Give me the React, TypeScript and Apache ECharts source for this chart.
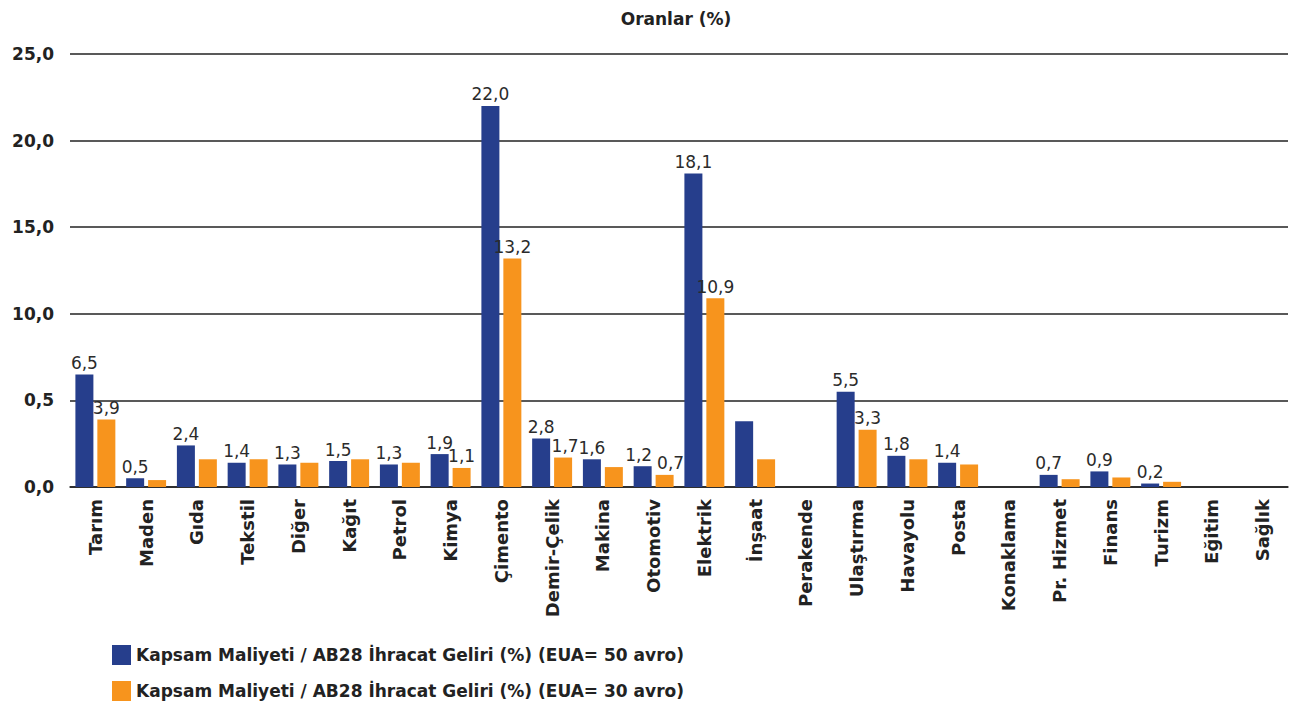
import React, { useEffect, useRef } from "react";
import * as echarts from "echarts";

const categories = [
  "Tarım", "Maden", "Gıda", "Tekstil", "Diğer", "Kağıt", "Petrol", "Kimya",
  "Çimento", "Demir-Çelik", "Makina", "Otomotiv", "Elektrik", "İnşaat",
  "Perakende", "Ulaştırma", "Havayolu", "Posta", "Konaklama", "Pr. Hizmet",
  "Finans", "Turizm", "Eğitim", "Sağlık",
];

const seriesNames = [
  "Kapsam Maliyeti / AB28 İhracat Geliri (%) (EUA= 50 avro)",
  "Kapsam Maliyeti / AB28 İhracat Geliri (%) (EUA= 30 avro)",
];

// EUA = 50 avro
const eua50 = [6.5, 0.5, 2.4, 1.4, 1.3, 1.5, 1.3, 1.9, 22.0, 2.8, 1.6, 1.2, 18.1, 3.8, 0, 5.5, 1.8, 1.4, 0, 0.7, 0.9, 0.2, 0, 0];
// which EUA 50 bars carry a value label
const eua50Labelled = [1, 1, 1, 1, 1, 1, 1, 1, 1, 1, 1, 1, 1, 0, 0, 1, 1, 1, 0, 1, 1, 1, 0, 0];

// EUA = 30 avro
const eua30 = [3.9, 0.4, 1.6, 1.6, 1.4, 1.6, 1.4, 1.1, 13.2, 1.7, 1.15, 0.7, 10.9, 1.6, 0, 3.3, 1.6, 1.3, 0, 0.45, 0.55, 0.3, 0, 0];
const eua30Labelled = [1, 0, 0, 0, 0, 0, 0, 1, 1, 1, 0, 1, 1, 0, 0, 1, 0, 0, 0, 0, 0, 0, 0, 0];

const yTickLabels = ["0,0", "0,5", "10,0", "15,0", "20,0", "25,0"];

const BLUE = "#263E8C";
const ORANGE = "#F7941D";
const FONT = "'DejaVu Sans', sans-serif";

// horizontal nudges for value labels that would otherwise collide
const blueLabelNudge: Record<number, number> = { 11: -4 };
const orangeLabelNudge: Record<number, number> = { 9: 2, 11: 6 };

const fmt = (v: number) => v.toFixed(1).replace(".", ",");

const makeData = (vals: number[], flags: number[], nudge: Record<number, number>) =>
  vals.map((v, i) => ({
    value: v,
    label: { show: flags[i] === 1, offset: [nudge[i] ?? 0, 0] },
  }));

const legendBase = {
  orient: "horizontal" as const,
  left: 112,
  padding: 0,
  itemWidth: 19,
  itemHeight: 20,
  itemGap: 6,
  icon: "rect",
  textStyle: { fontSize: 17, fontWeight: "bold" as const, color: "#222", fontFamily: FONT },
};

export default function App() {
  const ref = useRef<HTMLDivElement>(null);

  useEffect(() => {
    if (!ref.current) return;
    const chart = echarts.init(ref.current, null, { renderer: "svg" });
    const labelStyle = {
      position: "top" as const,
      distance: 3,
      color: "#2b2b2b",
      fontSize: 17,
      fontFamily: FONT,
      formatter: (p: any) => fmt(p.value),
    };
    chart.setOption({
      animation: false,
      backgroundColor: "#ffffff",
      title: {
        text: "Oranlar (%)",
        left: 671,
        top: 5,
        textAlign: "center",
        textStyle: { fontSize: 17, fontWeight: "bold", color: "#222", fontFamily: FONT },
      },
      legend: [
        { ...legendBase, top: 645, data: [seriesNames[0]] },
        { ...legendBase, top: 681, data: [seriesNames[1]] },
      ],
      grid: { left: 70, right: 12, top: 54, bottom: 217 },
      xAxis: {
        type: "category",
        data: categories,
        axisLine: { lineStyle: { color: "#222", width: 1.5 } },
        axisTick: { show: false },
        axisLabel: {
          rotate: 90,
          interval: 0,
          margin: 12,
          fontSize: 18,
          fontWeight: "bold",
          color: "#222",
          fontFamily: FONT,
        },
      },
      yAxis: {
        type: "value",
        min: 0,
        max: 25,
        interval: 5,
        axisLine: { show: false },
        axisTick: { show: false },
        splitLine: { lineStyle: { color: "#222", width: 1.5 } },
        axisLabel: {
          margin: 16,
          fontSize: 17,
          fontWeight: "bold",
          color: "#222",
          fontFamily: FONT,
          formatter: (v: number) => yTickLabels[Math.round(v / 5)] ?? "",
        },
      },
      series: [
        {
          name: seriesNames[0],
          type: "bar",
          barWidth: 18,
          barGap: "22%",
          itemStyle: { color: BLUE },
          label: labelStyle,
          data: makeData(eua50, eua50Labelled, blueLabelNudge),
        },
        {
          name: seriesNames[1],
          type: "bar",
          barWidth: 18,
          itemStyle: { color: ORANGE },
          label: labelStyle,
          data: makeData(eua30, eua30Labelled, orangeLabelNudge),
        },
      ],
    });
    return () => chart.dispose();
  }, []);

  return (
    <div
      ref={ref}
      style={{ position: "fixed", left: 0, top: 0, width: 1300, height: 704 }}
    />
  );
}
